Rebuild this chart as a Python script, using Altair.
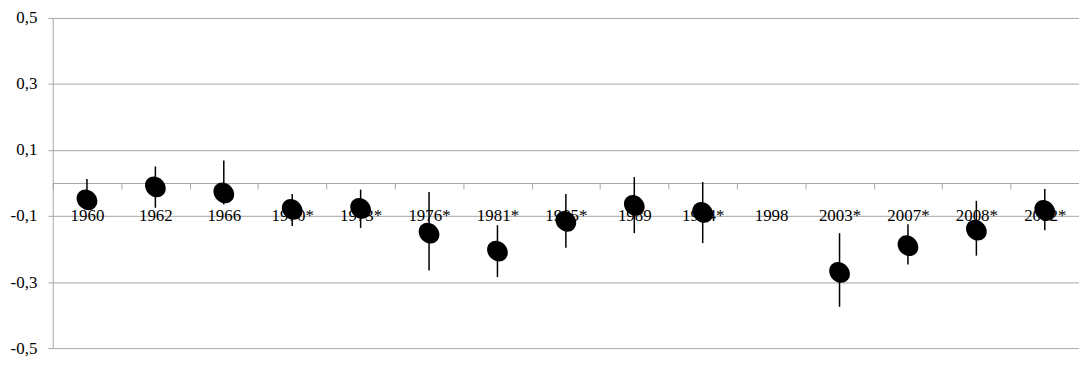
import altair as alt
import pandas as pd

years = ["1960", "1962", "1966", "1970*", "1973*", "1976*", "1981*", "1985*",
         "1989", "1994*", "1998", "2003*", "2007*", "2008*", "2012*"]
est = [-0.051, -0.012, -0.030, -0.080, -0.077, -0.152, -0.206, -0.116,
       -0.068, -0.089, None, -0.271, -0.190, -0.143, -0.083]
lo = [-0.075, -0.075, -0.065, -0.130, -0.136, -0.265, -0.285, -0.196,
      -0.152, -0.182, None, -0.375, -0.247, -0.220, -0.143]
hi = [0.012, 0.050, 0.068, -0.033, -0.020, -0.027, -0.128, -0.033,
      0.018, 0.003, None, -0.152, -0.125, -0.054, -0.018]
y_ticks = [-0.5, -0.3, -0.1, 0.1, 0.3, 0.5]

df = pd.DataFrame({"year": years, "est": est, "lo": lo, "hi": hi}).dropna()

GRAY = "#a6a6a6"
FONT = "Liberation Serif, Times New Roman, DejaVu Serif, serif"
H = 332

x_enc = alt.X(
    "year:N",
    sort=years,
    scale=alt.Scale(domain=years, paddingInner=0, paddingOuter=0),
    axis=alt.Axis(
        title=None, orient="bottom", offset=-H / 2, labelAngle=0,
        tickBand="extent", tickSize=6, tickColor=GRAY, domainColor=GRAY,
        labelPadding=27, labelBaseline="middle",
        labelOverlap=False, grid=False,
    ),
)
y_scale = alt.Scale(domain=[-0.5, 0.5], nice=False, zero=False)
y_axis = alt.Axis(
    title=None, values=y_ticks, grid=True, gridColor=GRAY, domainColor=GRAY,
    tickColor=GRAY, tickSize=5, labelPadding=11,
    labelExpr="(datum.value < 0 ? '-' : '') + replace(format(abs(datum.value), '.1f'), '.', ',')",
)

rules = alt.Chart(df).mark_rule(color="black", strokeWidth=1.5).encode(
    x=x_enc,
    y=alt.Y("lo:Q", scale=y_scale, axis=y_axis),
    y2="hi:Q",
)

ellipse = "M -1 0 A 1 0.86 0 1 1 1 0 A 1 0.86 0 1 1 -1 0 Z"
points = alt.Chart(df).mark_point(
    shape=ellipse, filled=True, color="black", opacity=1, size=500, angle=45
).encode(
    x=alt.X("year:N", sort=years),
    y=alt.Y("est:Q", scale=y_scale),
)

chart = (
    alt.layer(rules, points)
    .properties(
        width=1032, height=H,
        autosize=alt.AutoSizeParams(type="none"),
        padding={"left": 45, "top": 9, "right": 0, "bottom": 12},
    )
    .configure_view(stroke=None)
    .configure_axis(labelFont=FONT, labelFontSize=17, labelColor="black")
)

chart.save("out.html", embed_options={"renderer": "svg", "actions": False})
